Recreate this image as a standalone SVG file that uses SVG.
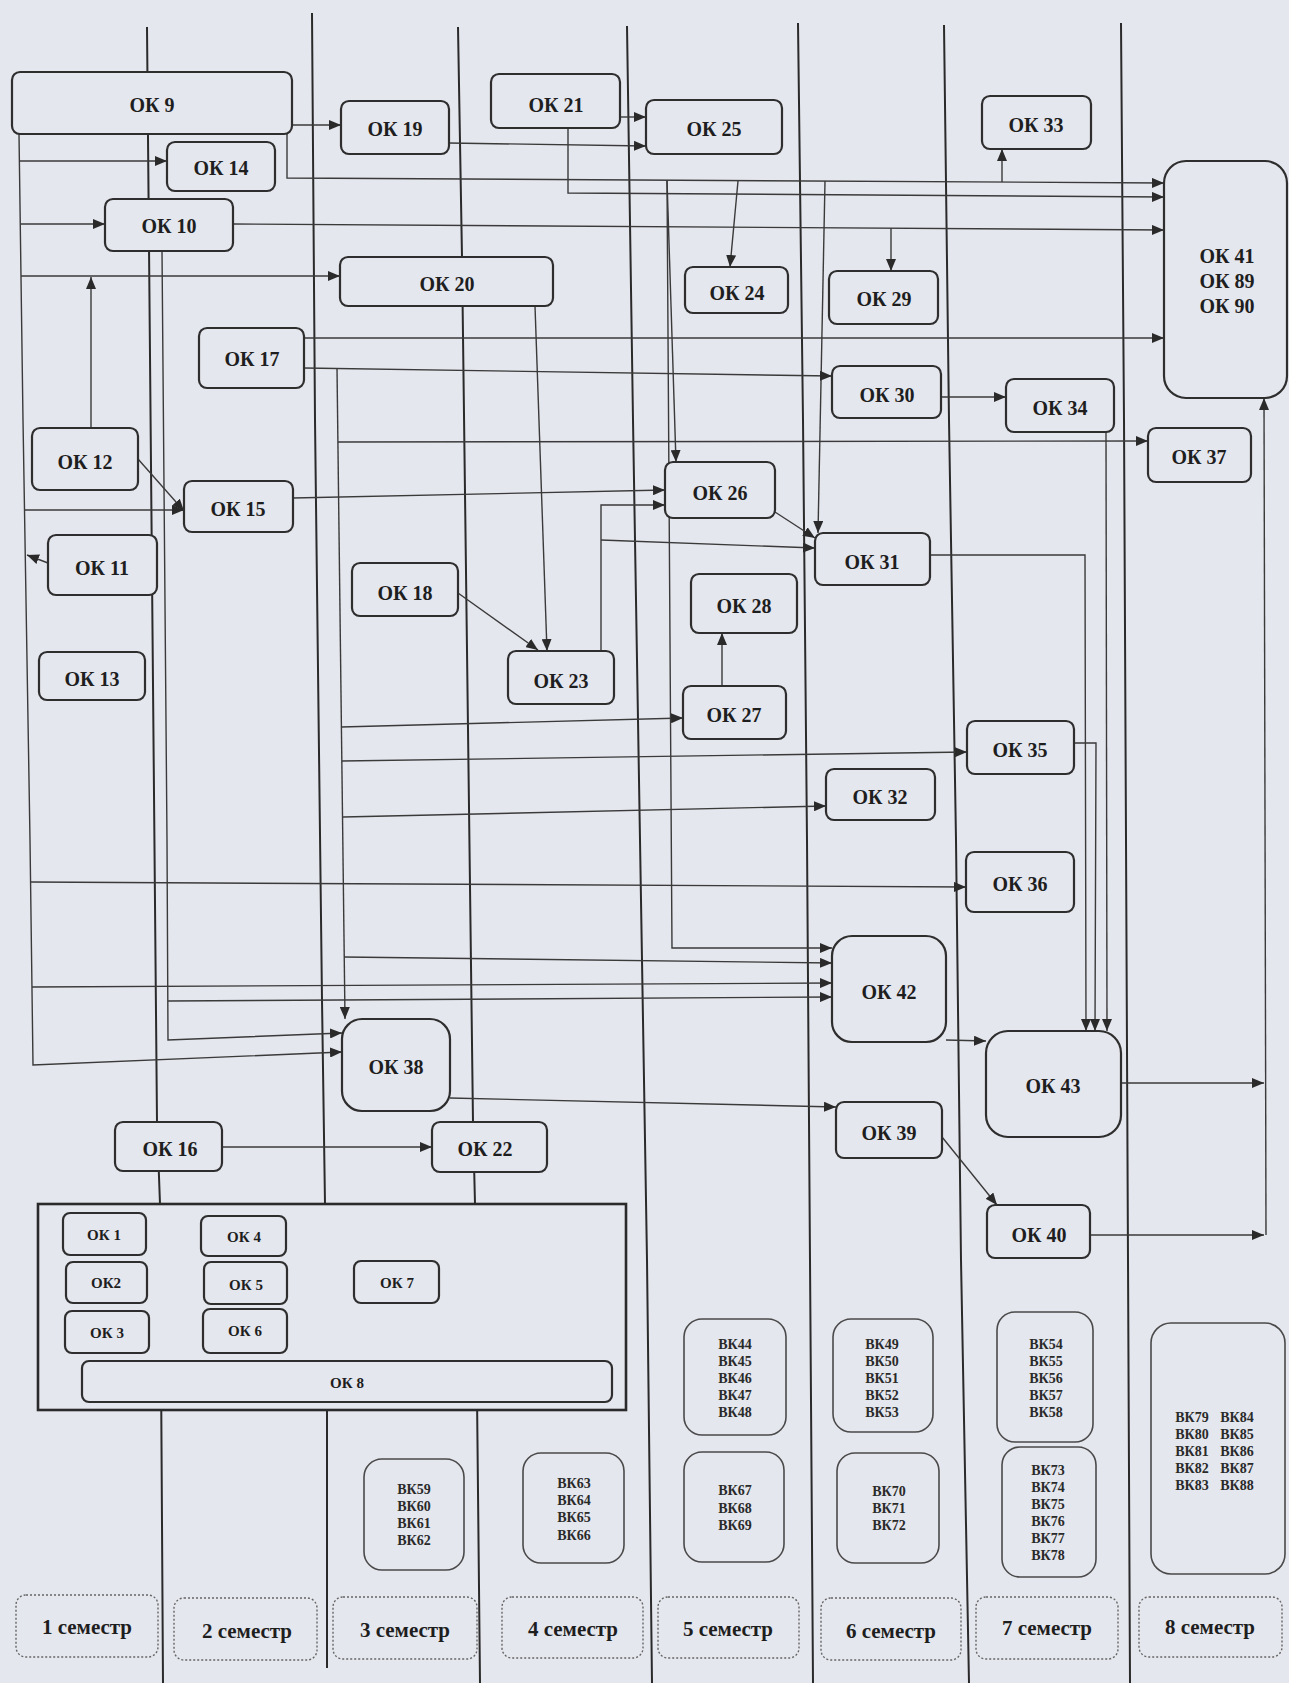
<svg xmlns="http://www.w3.org/2000/svg" width="1289" height="1683" viewBox="0 0 1289 1683">
<style>
.bg{fill:#e5e7ee}
.dv{stroke:#2a2a2a;stroke-width:2;fill:none}
.c{stroke:#3a3a3a;stroke-width:1.4;fill:none}
.a{stroke:#3a3a3a;stroke-width:1.4;fill:none;marker-end:url(#ah)}
.n{fill:#e5e7ee;stroke:#2e2e2e;stroke-width:2.2}
.bb{fill:#e5e7ee;stroke:#2a2a2a;stroke-width:2.6}
.bk{fill:#e5e7ee;stroke:#4a4a4a;stroke-width:1.6}
.sm{fill:#e5e7ee;stroke:#666;stroke-width:1.4;stroke-dasharray:2 2}
.t{font-family:"Liberation Serif",serif;font-weight:bold;font-size:20px;fill:#1e1e1e;text-anchor:middle;dominant-baseline:central}
.ts{font-family:"Liberation Serif",serif;font-weight:bold;font-size:15px;fill:#1e1e1e;text-anchor:middle;dominant-baseline:central}
.tb{font-family:"Liberation Serif",serif;font-weight:bold;font-size:14px;fill:#2a2a2a;text-anchor:middle;dominant-baseline:central}
.tm{font-family:"Liberation Serif",serif;font-weight:bold;font-size:21px;fill:#1e1e1e;text-anchor:middle;dominant-baseline:central}
</style>
<defs>
<marker id="ah" viewBox="0 0 12 10" refX="12" refY="5" markerWidth="12" markerHeight="10" markerUnits="userSpaceOnUse" orient="auto">
<path d="M0,0 L12,5 L0,10 z" fill="#2a2a2a"/>
</marker>
</defs>
<rect class="bg" x="0" y="0" width="1289" height="1683"/>

<g id="dividers">
<polyline class="dv" points="147,27 157,1122 160,1204 163,1683"/>
<polyline class="dv" points="312,13 315,420 322,1000 325,1204 327,1410 327,1668"/>
<polyline class="dv" points="458,27 462,257 473,1122 475,1204 480,1683"/>
<polyline class="dv" points="627,26 633,420 640,840 647,1260 652,1683"/>
<polyline class="dv" points="798,23 803,420 807,840 810,1260 813,1683"/>
<polyline class="dv" points="944,25 949,420 956,840 961,1260 969,1683"/>
<polyline class="dv" points="1121,23 1124,420 1126,840 1128,1260 1130,1683"/>
</g>

<g id="connectors">
<path class="a" d="M292,125 L341,125"/>
<path class="a" d="M19,134 L23,420 L30,840 L33,1065 L342,1052"/>
<path class="a" d="M20,161 L167,161"/>
<path class="a" d="M21,224 L105,224"/>
<path class="a" d="M21,276 L340,276"/>
<path class="a" d="M25,510 L184,510"/>
<path class="a" d="M48,563 L27,555"/>
<path class="a" d="M31,882 L966,887"/>
<path class="a" d="M32,987 L832,983"/>
<path class="a" d="M91,428 L91,277"/>
<path class="a" d="M138,459 L184,511"/>
<path class="a" d="M162,251 L167,840 L168,1040 L342,1033"/>
<path class="a" d="M168,1001 L832,997"/>
<path class="a" d="M233,224 L1164,230"/>
<path class="a" d="M891,228 L891,271"/>
<path class="a" d="M287,134 L287,178 L1164,183"/>
<path class="a" d="M1002,182 L1002,149"/>
<path class="a" d="M738,181 L730,267"/>
<path class="a" d="M825,181 L818,533"/>
<path class="a" d="M667,180 L676,462"/>
<path class="a" d="M667,180 L672,948 L832,948"/>
<path class="a" d="M449,143 L646,146"/>
<path class="a" d="M620,117 L646,117"/>
<path class="a" d="M568,128 L568,193 L1164,197"/>
<path class="a" d="M304,338 L1164,338"/>
<path class="a" d="M304,368 L832,376"/>
<path class="a" d="M337,368 L345,1019"/>
<path class="a" d="M338,442 L1148,441"/>
<path class="a" d="M341,727 L683,718"/>
<path class="a" d="M342,761 L967,752"/>
<path class="a" d="M343,817 L826,806"/>
<path class="a" d="M344,957 L832,963"/>
<path class="a" d="M535,306 L547,651"/>
<path class="a" d="M458,593 L538,650"/>
<path class="a" d="M601,651 L601,505 L665,505"/>
<path class="a" d="M601,540 L815,548"/>
<path class="a" d="M293,498 L665,490"/>
<path class="a" d="M775,512 L815,538"/>
<path class="a" d="M722,686 L722,633"/>
<path class="a" d="M941,397 L1006,397"/>
<path class="a" d="M930,555 L1085,555 L1086,1031"/>
<path class="a" d="M1074,743 L1096,743 L1095,1031"/>
<path class="a" d="M1106,432 L1107,1031"/>
<path class="a" d="M946,1040 L986,1041"/>
<path class="a" d="M1121,1083 L1264,1083"/>
<path class="a" d="M1090,1235 L1264,1235"/>
<path class="a" d="M1266,1235 L1264,398"/>
<path class="a" d="M942,1137 L997,1205"/>
<path class="a" d="M450,1098 L836,1107"/>
<path class="a" d="M222,1147 L432,1147"/>
</g>

<g id="ok9"><rect class="n" x="12" y="72" width="280" height="62" rx="8"/><text class="t" x="152" y="105">ОК 9</text></g>
<g id="ok19"><rect class="n" x="341" y="101" width="108" height="53" rx="8"/><text class="t" x="395" y="129">ОК 19</text></g>
<g id="ok14"><rect class="n" x="167" y="142" width="108" height="49" rx="8"/><text class="t" x="221" y="168">ОК 14</text></g>
<g id="ok10"><rect class="n" x="105" y="199" width="128" height="52" rx="8"/><text class="t" x="169" y="226">ОК 10</text></g>
<g id="ok20"><rect class="n" x="340" y="257" width="213" height="49" rx="8"/><text class="t" x="447" y="284">ОК 20</text></g>
<g id="ok17"><rect class="n" x="199" y="328" width="105" height="60" rx="8"/><text class="t" x="252" y="359">ОК 17</text></g>
<g id="ok21"><rect class="n" x="491" y="74" width="129" height="54" rx="8"/><text class="t" x="556" y="105">ОК 21</text></g>
<g id="ok25"><rect class="n" x="646" y="100" width="136" height="54" rx="8"/><text class="t" x="714" y="129">ОК 25</text></g>
<g id="ok24"><rect class="n" x="685" y="267" width="103" height="46" rx="8"/><text class="t" x="737" y="293">ОК 24</text></g>
<g id="ok29"><rect class="n" x="829" y="271" width="109" height="53" rx="8"/><text class="t" x="884" y="299">ОК 29</text></g>
<g id="ok30"><rect class="n" x="832" y="366" width="109" height="52" rx="8"/><text class="t" x="887" y="395">ОК 30</text></g>
<g id="ok33"><rect class="n" x="982" y="96" width="109" height="53" rx="8"/><text class="t" x="1036" y="125">ОК 33</text></g>
<g id="ok41"><rect class="n" x="1164" y="161" width="123" height="237" rx="22"/><text class="t" x="1227" y="256">ОК 41</text><text class="t" x="1227" y="281">ОК 89</text><text class="t" x="1227" y="306">ОК 90</text></g>
<g id="ok34"><rect class="n" x="1006" y="379" width="108" height="53" rx="8"/><text class="t" x="1060" y="408">ОК 34</text></g>
<g id="ok37"><rect class="n" x="1148" y="428" width="103" height="54" rx="8"/><text class="t" x="1199" y="457">ОК 37</text></g>
<g id="ok12"><rect class="n" x="32" y="428" width="106" height="62" rx="8"/><text class="t" x="85" y="462">ОК 12</text></g>
<g id="ok15"><rect class="n" x="184" y="481" width="109" height="51" rx="8"/><text class="t" x="238" y="509">ОК 15</text></g>
<g id="ok26"><rect class="n" x="665" y="462" width="110" height="56" rx="8"/><text class="t" x="720" y="493">ОК 26</text></g>
<g id="ok31"><rect class="n" x="815" y="533" width="115" height="52" rx="8"/><text class="t" x="872" y="562">ОК 31</text></g>
<g id="ok11"><rect class="n" x="48" y="535" width="109" height="60" rx="8"/><text class="t" x="102" y="568">ОК 11</text></g>
<g id="ok18"><rect class="n" x="352" y="563" width="106" height="53" rx="8"/><text class="t" x="405" y="593">ОК 18</text></g>
<g id="ok28"><rect class="n" x="691" y="574" width="106" height="59" rx="8"/><text class="t" x="744" y="606">ОК 28</text></g>
<g id="ok13"><rect class="n" x="39" y="652" width="106" height="48" rx="8"/><text class="t" x="92" y="679">ОК 13</text></g>
<g id="ok23"><rect class="n" x="508" y="651" width="106" height="53" rx="8"/><text class="t" x="561" y="681">ОК 23</text></g>
<g id="ok27"><rect class="n" x="683" y="686" width="103" height="53" rx="8"/><text class="t" x="734" y="715">ОК 27</text></g>
<g id="ok35"><rect class="n" x="967" y="721" width="107" height="53" rx="8"/><text class="t" x="1020" y="750">ОК 35</text></g>
<g id="ok32"><rect class="n" x="826" y="769" width="109" height="51" rx="8"/><text class="t" x="880" y="797">ОК 32</text></g>
<g id="ok36"><rect class="n" x="966" y="852" width="108" height="60" rx="8"/><text class="t" x="1020" y="884">ОК 36</text></g>
<g id="ok42"><rect class="n" x="832" y="936" width="114" height="106" rx="20"/><text class="t" x="889" y="992">ОК 42</text></g>
<g id="ok38"><rect class="n" x="342" y="1019" width="108" height="92" rx="20"/><text class="t" x="396" y="1067">ОК 38</text></g>
<g id="ok43"><rect class="n" x="986" y="1031" width="135" height="106" rx="22"/><text class="t" x="1053" y="1086">ОК 43</text></g>
<g id="ok39"><rect class="n" x="836" y="1102" width="106" height="56" rx="8"/><text class="t" x="889" y="1133">ОК 39</text></g>
<g id="ok40"><rect class="n" x="987" y="1205" width="103" height="53" rx="8"/><text class="t" x="1039" y="1235">ОК 40</text></g>
<g id="ok16"><rect class="n" x="115" y="1122" width="107" height="49" rx="8"/><text class="t" x="170" y="1149">ОК 16</text></g>
<g id="ok22"><rect class="n" x="432" y="1122" width="115" height="50" rx="8"/><text class="t" x="485" y="1149">ОК 22</text></g>

<g id="base-block">
<rect class="bb" x="38" y="1204" width="588" height="206"/>
<g id="ok1"><rect class="n" x="63" y="1213" width="83" height="42" rx="7"/><text class="ts" x="104" y="1235">ОК 1</text></g>
<g id="ok4"><rect class="n" x="201" y="1216" width="85" height="40" rx="7"/><text class="ts" x="244" y="1237">ОК 4</text></g>
<g id="ok2"><rect class="n" x="66" y="1262" width="81" height="41" rx="7"/><text class="ts" x="106" y="1283">ОК2</text></g>
<g id="ok5"><rect class="n" x="204" y="1262" width="83" height="42" rx="7"/><text class="ts" x="246" y="1285">ОК 5</text></g>
<g id="ok7"><rect class="n" x="354" y="1261" width="85" height="42" rx="7"/><text class="ts" x="397" y="1283">ОК 7</text></g>
<g id="ok3"><rect class="n" x="65" y="1311" width="84" height="42" rx="7"/><text class="ts" x="107" y="1333">ОК 3</text></g>
<g id="ok6"><rect class="n" x="203" y="1309" width="84" height="44" rx="7"/><text class="ts" x="245" y="1331">ОК 6</text></g>
<g id="ok8"><rect class="n" x="82" y="1361" width="530" height="41" rx="7"/><text class="ts" x="347" y="1383">ОК 8</text></g>
</g>

<g id="bk59"><rect class="bk" x="364" y="1459" width="100" height="111" rx="18"/><text class="tb" x="414" y="1489">ВК59</text><text class="tb" x="414" y="1506">ВК60</text><text class="tb" x="414" y="1523">ВК61</text><text class="tb" x="414" y="1540">ВК62</text></g>
<g id="bk63"><rect class="bk" x="523" y="1453" width="101" height="110" rx="18"/><text class="tb" x="574" y="1483">ВК63</text><text class="tb" x="574" y="1500">ВК64</text><text class="tb" x="574" y="1517">ВК65</text><text class="tb" x="574" y="1535">ВК66</text></g>
<g id="bk44"><rect class="bk" x="684" y="1319" width="102" height="116" rx="18"/><text class="tb" x="735" y="1344">ВК44</text><text class="tb" x="735" y="1361">ВК45</text><text class="tb" x="735" y="1378">ВК46</text><text class="tb" x="735" y="1395">ВК47</text><text class="tb" x="735" y="1412">ВК48</text></g>
<g id="bk67"><rect class="bk" x="684" y="1452" width="100" height="110" rx="18"/><text class="tb" x="735" y="1490">ВК67</text><text class="tb" x="735" y="1508">ВК68</text><text class="tb" x="735" y="1525">ВК69</text></g>
<g id="bk49"><rect class="bk" x="833" y="1319" width="100" height="113" rx="18"/><text class="tb" x="882" y="1344">ВК49</text><text class="tb" x="882" y="1361">ВК50</text><text class="tb" x="882" y="1378">ВК51</text><text class="tb" x="882" y="1395">ВК52</text><text class="tb" x="882" y="1412">ВК53</text></g>
<g id="bk70"><rect class="bk" x="837" y="1453" width="102" height="110" rx="18"/><text class="tb" x="889" y="1491">ВК70</text><text class="tb" x="889" y="1508">ВК71</text><text class="tb" x="889" y="1525">ВК72</text></g>
<g id="bk54"><rect class="bk" x="997" y="1312" width="96" height="130" rx="18"/><text class="tb" x="1046" y="1344">ВК54</text><text class="tb" x="1046" y="1361">ВК55</text><text class="tb" x="1046" y="1378">ВК56</text><text class="tb" x="1046" y="1395">ВК57</text><text class="tb" x="1046" y="1412">ВК58</text></g>
<g id="bk73"><rect class="bk" x="1002" y="1447" width="94" height="130" rx="18"/><text class="tb" x="1048" y="1470">ВК73</text><text class="tb" x="1048" y="1487">ВК74</text><text class="tb" x="1048" y="1504">ВК75</text><text class="tb" x="1048" y="1521">ВК76</text><text class="tb" x="1048" y="1538">ВК77</text><text class="tb" x="1048" y="1555">ВК78</text></g>
<g id="bk79"><rect class="bk" x="1151" y="1323" width="134" height="251" rx="20"/>
<text class="tb" x="1192" y="1417">ВК79</text><text class="tb" x="1192" y="1434">ВК80</text><text class="tb" x="1192" y="1451">ВК81</text><text class="tb" x="1192" y="1468">ВК82</text><text class="tb" x="1192" y="1485">ВК83</text>
<text class="tb" x="1237" y="1417">ВК84</text><text class="tb" x="1237" y="1434">ВК85</text><text class="tb" x="1237" y="1451">ВК86</text><text class="tb" x="1237" y="1468">ВК87</text><text class="tb" x="1237" y="1485">ВК88</text></g>

<g id="sem1"><rect class="sm" x="16" y="1595" width="142" height="62" rx="10"/><text class="tm" x="87" y="1627">1 семестр</text></g>
<g id="sem2"><rect class="sm" x="174" y="1598" width="143" height="62" rx="10"/><text class="tm" x="247" y="1631">2 семестр</text></g>
<g id="sem3"><rect class="sm" x="333" y="1597" width="144" height="62" rx="10"/><text class="tm" x="405" y="1630">3 семестр</text></g>
<g id="sem4"><rect class="sm" x="502" y="1597" width="141" height="61" rx="10"/><text class="tm" x="573" y="1629">4 семестр</text></g>
<g id="sem5"><rect class="sm" x="658" y="1597" width="141" height="61" rx="10"/><text class="tm" x="728" y="1629">5 семестр</text></g>
<g id="sem6"><rect class="sm" x="821" y="1598" width="140" height="62" rx="10"/><text class="tm" x="891" y="1631">6 семестр</text></g>
<g id="sem7"><rect class="sm" x="976" y="1597" width="142" height="62" rx="10"/><text class="tm" x="1047" y="1628">7 семестр</text></g>
<g id="sem8"><rect class="sm" x="1139" y="1597" width="143" height="60" rx="10"/><text class="tm" x="1210" y="1627">8 семестр</text></g>
</svg>
